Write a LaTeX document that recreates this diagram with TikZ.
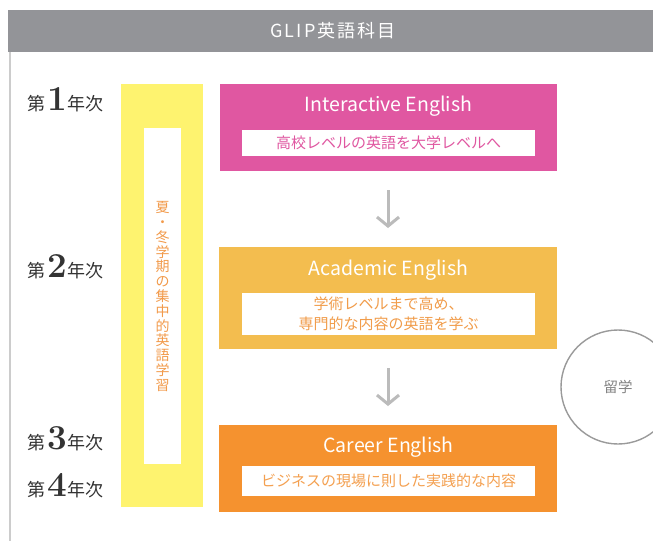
\documentclass[tikz,border=0pt]{standalone}
\usepackage{fontspec}
\newfontfamily\jp{Noto Sans CJK JP}
\usetikzlibrary{arrows.meta}
\definecolor{hdr}{HTML}{939498}
\definecolor{pinkc}{HTML}{E057A1}
\definecolor{acad}{HTML}{F3BD4F}
\definecolor{car}{HTML}{F5922F}
\definecolor{yel}{HTML}{FEF36F}
\definecolor{vtxt}{HTML}{F29A4A}
\definecolor{atxt}{HTML}{F19C4A}
\definecolor{ctxt}{HTML}{F4A050}
\definecolor{arr}{HTML}{BBBBBB}
\definecolor{circ}{HTML}{9A9A9A}
\definecolor{yeartxt}{HTML}{333333}
\tikzset{
  box/.style={draw=none, inner sep=0pt, outer sep=0pt},
  ttl/.style={text=white, font=\jp\fontsize{19.5}{21}\selectfont, inner sep=0pt},
  inner/.style={box, fill=white, minimum width=293pt},
  sub/.style={font=\jp\fontsize{15}{20}\selectfont, align=center, inner sep=0pt},
  yr/.style={anchor=base west, inner sep=0pt, text=yeartxt},
  flow/.style={draw=arr, line width=3pt, -{Straight Barb[length=9pt,width=22pt,line width=3pt]}, shorten <=19pt, shorten >=19pt},
}
\newcommand{\yearlabel}[1]{{\jp\fontsize{18}{18}\selectfont 第}\hspace{2pt}{\fontsize{35}{35}\selectfont\bfseries #1}\hspace{1pt}{\jp\fontsize{18}{18}\selectfont 年次}}
\newcommand{\hs}{\hspace{2pt}}
\begin{document}
\begin{tikzpicture}[x=1pt,y=-1pt]
\useasboundingbox (0,0) rectangle (653,541);
\fill[white] (0,0) rectangle (653,541);
% header
\node[box, fill=hdr, minimum width=645pt, minimum height=42pt] (hdr) at (330.5,31) {};
\node[text=white, font=\jp\fontsize{18}{20}\selectfont, inner sep=0pt] (hdrt) at (333,31) {G\hs L\hs I\hs P\hs 英\hs 語\hs 科\hs 目};
% left line
\coordinate (lt) at (9.5,52);
\coordinate (lb) at (9.5,541);
\draw[draw=black!20, line width=2pt] (lt) -- (lb);
% year labels
\node[yr] (y1) at (27,110) {\yearlabel{1}};
\node[yr] (y2) at (27,277) {\yearlabel{2}};
\node[yr] (y3) at (27,449) {\yearlabel{3}};
\node[yr] (y4) at (27,496) {\yearlabel{4}};
% yellow band
\node[box, fill=yel, minimum width=82pt, minimum height=423pt] (band) at (162,295.5) {};
\node[box, fill=white, minimum width=37pt, minimum height=336pt] (bandin) at (162.5,296) {};
\node[text=vtxt, font=\jp\fontsize{14}{14.8}\selectfont, align=center, inner sep=0pt] (vt) at (162.5,296.5)
 {夏\\・\\冬\\学\\期\\の\\集\\中\\的\\英\\語\\学\\習};
% Interactive
\node[box, fill=pinkc, minimum width=337pt, minimum height=87pt] (ie) at (388,127.5) {};
\node[ttl] (iet) at (388.5,106.5) {Interactive English};
\node[inner, minimum height=26pt] (iein) at (388.5,143) {};
\node[sub, text=pinkc] (ies) at (388.5,143) {高校レベルの英語を大学レベルへ};
% Academic
\node[box, fill=acad, minimum width=338pt, minimum height=102pt] (ae) at (388,298) {};
\node[ttl] (aet) at (388.5,270.5) {Academic English};
\node[inner, minimum height=42pt] (aein) at (388.5,314) {};
\node[sub, text=atxt] (aes) at (388.5,314) {学術レベルまで高め、\\専門的な内容の英語を学ぶ};
% Career
\node[box, fill=car, minimum width=338pt, minimum height=87pt] (ce) at (388,468.5) {};
\node[ttl] (cet) at (388.5,447.5) {Career English};
\node[inner, minimum height=30pt] (cein) at (388.5,481) {};
\node[sub, text=ctxt] (ces) at (388.5,481) {ビジネスの現場に則した実践的な内容};
% arrows
\draw[flow] (ie.south) -- (ae.north);
\draw[flow] (ae.south) -- (ce.north);
% study abroad
\node[circle, draw=circ, line width=1.4pt, minimum size=114pt, inner sep=0pt] (ryu) at (618,387) {};
\node[text=circ!85!black, font=\jp\fontsize{14.5}{16}\selectfont, inner sep=0pt] (ryut) at (618,387) {留学};
\end{tikzpicture}
\end{document}
